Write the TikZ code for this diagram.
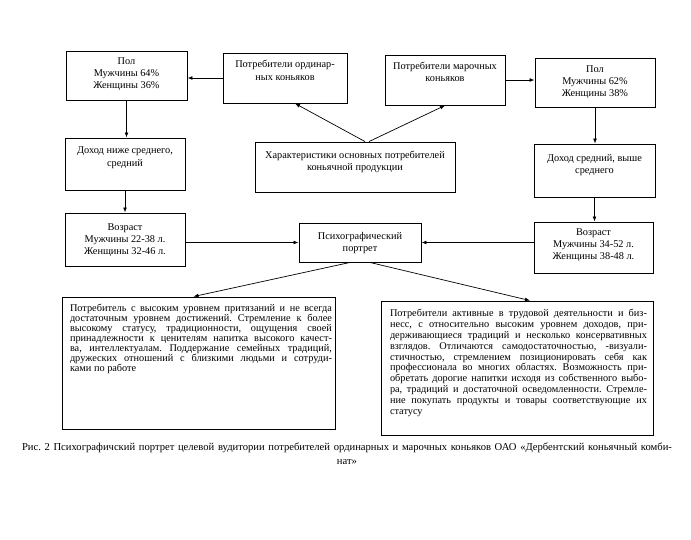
\documentclass[tikz,border=0pt]{standalone}
\usepackage{fontspec}
\setmainfont{Liberation Serif}
\usetikzlibrary{arrows.meta}
\frenchspacing
\newcommand{\tbx}[4]{\parbox[c][#2][t]{#1}{\vspace*{#3}\centering #4\par}}
\newlength{\jwid}
\newcommand{\jln}[1]{\noindent\makebox[\jwid][s]{#1}\par}
\newcommand{\lln}[1]{\noindent\makebox[\jwid][l]{#1}\par}
\begin{document}
\begin{tikzpicture}[x=1pt,y=-1pt,
  bx/.style={draw, line width=0.9pt, inner sep=0pt, font=\fontsize{10.3}{12.3}\selectfont},
  arr/.style={-{Latex[length=5pt,width=3.8pt]}, line width=0.7pt}]
\useasboundingbox (0,0) rectangle (691,539);
\node[bx] (B1) at (126.5,75.5) {\tbx{121pt}{49pt}{6.5pt}{Пол\\Мужчины 64\%\\Женщины 36\%}};
\node[bx] (B2) at (285,78) {\tbx{124pt}{50pt}{7.5pt}{Потребители ординар-\\ных коньяков}};
\node[bx] (B3) at (445,80) {\tbx{120pt}{50pt}{7pt}{Потребители марочных\\коньяков}};
\node[bx] (B4) at (595,82.5) {\tbx{120pt}{49pt}{7.5pt}{Пол\\Мужчины 62\%\\Женщины 38\%}};
\node[bx] (B5) at (125,164) {\tbx{120pt}{52pt}{9pt}{Доход ниже среднего,\\средний}};
\node[bx] (B6) at (355,167) {\tbx{200pt}{50pt}{9pt}{Характеристики основных потребителей\\коньячной продукции}};
\node[bx] (B7) at (594.5,170.5) {\tbx{121pt}{53pt}{10pt}{Доход средний, выше\\среднего}};
\node[bx] (B8) at (125,239.5) {\tbx{120pt}{53pt}{10.5pt}{Возраст\\Мужчины 22-38 л.\\Женщины 32-46 л.}};
\node[bx] (B9) at (360,242.5) {\tbx{122pt}{39pt}{9pt}{Психографический\\портрет}};
\node[bx] (B10) at (593.5,247.5) {\tbx{119pt}{51pt}{6.5pt}{Возраст\\Мужчины 34-52 л.\\Женщины 38-48 л.}};
\node[bx, font=\fontsize{10.3}{9.9}\selectfont] (B11) at (198.5,363) {\parbox[c][132pt][t]{273pt}{\vspace*{7.5pt}\setlength{\jwid}{262pt}\leftskip=8pt
\jln{Потребитель с высоким уровнем притязаний и не всегда}
\jln{достаточным уровнем достижений. Стремление к более}
\jln{высокому статусу, традиционности, ощущения своей}
\jln{принадлежности к ценителям напитка высокого качест-}
\jln{ва, интеллектуалам. Поддержание семейных традиций,}
\jln{дружеских отношений с близкими людьми и сотруди-}
\lln{ками по работе}}};
\node[bx, font=\fontsize{10.3}{10.8}\selectfont] (B12) at (517,368) {\parbox[c][134pt][t]{272pt}{\vspace*{8.5pt}\setlength{\jwid}{257pt}\leftskip=9pt
\jln{Потребители активные в трудовой деятельности и биз-}
\jln{несс, с относительно высоким уровнем доходов, при-}
\jln{держивающиеся традиций и несколько консервативных}
\jln{взглядов. Отличаются самодостаточностью, -визуали-}
\jln{стичностью, стремлением позиционировать себя как}
\jln{профессионала во многих областях. Возможность при-}
\jln{обретать дорогие напитки исходя из собственного выбо-}
\jln{ра, традиций и достаточной осведомленности. Стремле-}
\jln{ние покупать продукты и товары соответствующие их}
\lln{статусу}}};
\node[inner sep=0pt, font=\fontsize{10.6}{14}\selectfont] (CAP) at (347,454) {\parbox{650pt}{\centering\makebox[650pt][s]{Рис. 2 Психографичский портрет целевой вудитории потребителей ординарных и марочных коньяков ОАО «Дербентский коньячный комби-}\\нат»}};
\draw[arr] (B2.west) -- (B2.west -| B1.east);
\draw[arr] (B3.east) -- (B3.east -| B4.west);
\draw[arr] (B1.south) -- (B1.south |- B5.north);
\draw[arr] (B5.south) -- (B5.south |- B8.north);
\draw[arr] (B4.south) -- (B4.south |- B7.north);
\draw[arr] (B7.south) -- (B7.south |- B10.north);
\draw[arr] (B8.east |- B9.west) -- (B9.west);
\draw[arr] (B10.west |- B9.east) -- (B9.east);
\draw[arr] ([xshift=10pt]B6.north) -- ([xshift=10pt]B2.south);
\draw[arr] ([xshift=14pt]B6.north) -- (B3.south);
\draw[arr] ([xshift=-10pt]B9.south) -- ([xshift=-5pt]B11.north);
\draw[arr] ([xshift=10pt]B9.south) -- ([xshift=13pt]B12.north);
\end{tikzpicture}
\end{document}
